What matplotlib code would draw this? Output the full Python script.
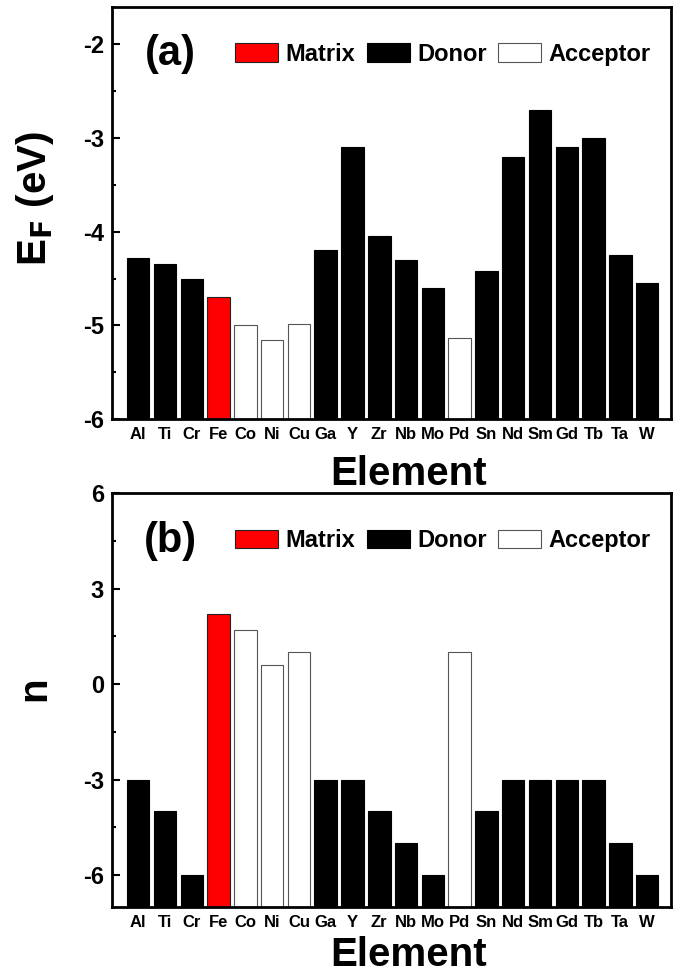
import matplotlib.pyplot as plt
from matplotlib.patches import Patch
from matplotlib.ticker import MultipleLocator

plt.rcParams['font.family'] = ['Liberation Sans', 'DejaVu Sans']
plt.rcParams['font.weight'] = 'bold'
plt.rcParams['mathtext.default'] = 'bf'

elements = ["Al", "Ti", "Cr", "Fe", "Co", "Ni", "Cu", "Ga", "Y", "Zr",
            "Nb", "Mo", "Pd", "Sn", "Nd", "Sm", "Gd", "Tb", "Ta", "W"]
kinds = ["D", "D", "D", "M", "A", "A", "A", "D", "D", "D",
         "D", "D", "A", "D", "D", "D", "D", "D", "D", "D"]
fermi_energy = [-4.28, -4.34, -4.50, -4.70, -5.00, -5.16, -4.99, -4.20, -3.10, -4.05,
                -4.30, -4.60, -5.13, -4.42, -3.20, -2.70, -3.10, -3.00, -4.25, -4.55]
n_values = [-3, -4, -6, 2.2, 1.7, 0.6, 1.0, -3, -3, -4,
            -5, -6, 1.0, -4, -3, -3, -3, -3, -5, -6]

FILL = {"M": "#ff0000", "D": "black", "A": "white"}
EDGE = {"M": "#222222", "D": "black", "A": "#555555"}


def draw_panel(ax, values, ymin, ymax, major, minor, ylabel, tag):
    x = list(range(1, len(elements) + 1))
    ax.bar(x, [v - ymin for v in values], bottom=ymin, width=0.84,
           color=[FILL[k] for k in kinds], edgecolor=[EDGE[k] for k in kinds],
           linewidth=0.8)
    ax.set_xlim(0.03, 20.9)
    ax.set_ylim(ymin, ymax)
    ax.set_xticks(x)
    ax.set_xticklabels(elements, fontsize=12, fontweight='bold')
    ax.yaxis.set_major_locator(MultipleLocator(major))
    ax.yaxis.set_minor_locator(MultipleLocator(minor))
    ax.yaxis.set_major_formatter(lambda v, p: f"{v:g}".replace("\u2212", "-"))
    ax.tick_params(axis='y', direction='in', length=6, width=1.5, labelsize=17, pad=6)
    ax.tick_params(axis='y', which='minor', direction='in', length=3, width=1.5)
    ax.tick_params(axis='x', length=0, pad=6)
    for s in ax.spines.values():
        s.set_linewidth(2)
    ax.set_xlabel("Element", fontsize=29, fontweight='bold')
    ax.set_ylabel(ylabel, fontsize=29, fontweight='bold')
    ax.text(0.104, 0.885, tag, transform=ax.transAxes, fontsize=30,
            fontweight='bold', ha='center', va='center')

    handles = [Patch(facecolor=FILL[k], edgecolor=EDGE[k], linewidth=0.8) for k in "MDA"]
    ax.legend(handles, ["Matrix", "Donor", "Acceptor"], ncol=3, frameon=False,
              loc='center right', bbox_to_anchor=(0.963, 0.885),
              prop={'size': 17, 'weight': 'bold'}, handlelength=1.82,
              handleheight=0.85, handletextpad=0.3, columnspacing=0.5,
              borderpad=0, borderaxespad=0)


def main():
    fig = plt.figure(figsize=(6.76, 9.73), dpi=100)
    ax1 = fig.add_axes([0.166, 0.5694, 0.827, 0.4234])
    ax2 = fig.add_axes([0.166, 0.0678, 0.827, 0.4255])

    draw_panel(ax1, fermi_energy, -6, -1.6, 1, 0.5, r"E$_\mathbf{F}$ (eV)", "(a)")
    draw_panel(ax2, n_values, -7, 6, 3, 1.5, "n", "(b)")
    ax1.yaxis.set_label_coords(-0.10, 0.534)
    ax2.yaxis.set_label_coords(-0.105, 0.527)
    ax1.xaxis.set_label_coords(0.53, -0.087)
    ax2.xaxis.set_label_coords(0.53, -0.070)

    fig.savefig("out.png", dpi=100)


if __name__ == '__main__':
    main()
